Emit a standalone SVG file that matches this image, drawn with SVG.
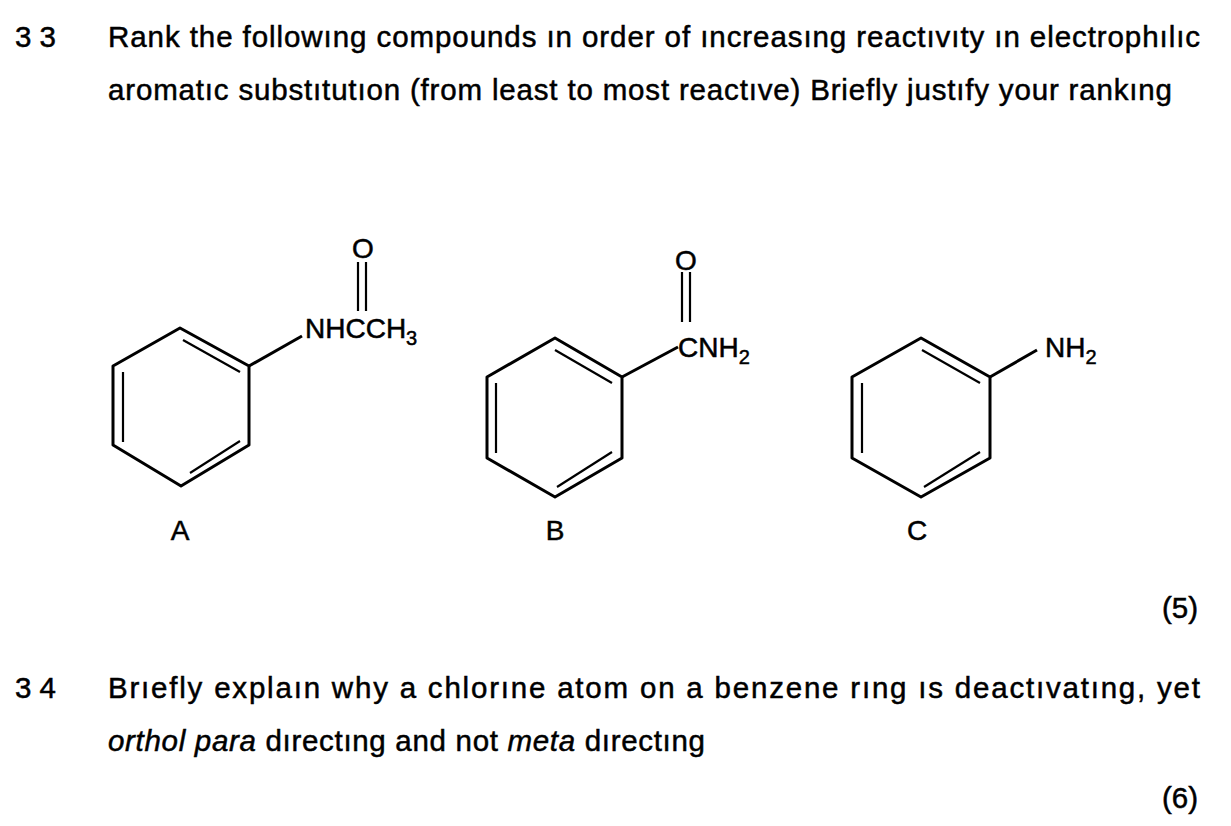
<svg xmlns="http://www.w3.org/2000/svg" width="1231" height="826" viewBox="0 0 1231 826">
<style>
text{font-family:"Liberation Sans",Arial,sans-serif;fill:#000;stroke:#000;stroke-width:0.5}
.t{font-size:29.5px}
.c{font-size:28px}
.s{font-size:20px}
.b{stroke:#000;stroke-width:3;fill:none;stroke-linejoin:round}
.i{stroke:#000;stroke-width:2.2;fill:none}
</style>
<rect width="1231" height="826" fill="#fff"/>
<text class="t" x="15" y="47">3 3</text>
<text class="t" x="108" y="47" textLength="1092" lengthAdjust="spacing">Rank the followıng compounds ın order of ıncreasıng reactıvıty ın electrophılıc</text>
<text class="t" x="108" y="100" textLength="1064" lengthAdjust="spacing">aromatıc substıtutıon (from least to most reactıve)  Briefly justıfy your rankıng</text>

<g id="compoundA">
<polygon class="b" points="180,328 249,366 249,445 181,486 113,445 113,366"/>
<line class="i" x1="183" y1="340" x2="240" y2="372"/>
<line class="i" x1="240" y1="441" x2="190" y2="473"/>
<line class="i" x1="123" y1="372" x2="123" y2="442"/>
<line class="b" x1="249" y1="366" x2="302" y2="336"/>
<line class="i" x1="358" y1="262" x2="358" y2="311"/>
<line class="i" x1="366" y1="262" x2="366" y2="311"/>
<text class="c" x="363" y="258" text-anchor="middle">O</text>
<text class="c" x="305" y="338">NHCCH<tspan class="s" dy="7">3</tspan></text>
<text class="c" x="180" y="540" text-anchor="middle">A</text>
</g>

<g id="compoundB">
<polygon class="b" points="555,338 622,377 622,458 555,497 487,458 487,377"/>
<line class="i" x1="555" y1="350" x2="612" y2="383"/>
<line class="i" x1="612" y1="452" x2="557" y2="487"/>
<line class="i" x1="496" y1="383" x2="496" y2="453"/>
<line class="b" x1="622" y1="377" x2="678" y2="347"/>
<line class="i" x1="682" y1="272" x2="682" y2="322"/>
<line class="i" x1="690" y1="272" x2="690" y2="322"/>
<text class="c" x="686" y="270" text-anchor="middle">O</text>
<text class="c" x="678" y="357">CNH<tspan class="s" dy="7">2</tspan></text>
<text class="c" x="555" y="540" text-anchor="middle">B</text>
</g>

<g id="compoundC">
<polygon class="b" points="921,338 990,377 990,458 921,497 852,458 852,377"/>
<line class="i" x1="922" y1="350" x2="980" y2="383"/>
<line class="i" x1="980" y1="452" x2="924" y2="487"/>
<line class="i" x1="862" y1="383" x2="862" y2="453"/>
<line class="b" x1="990" y1="377" x2="1037" y2="350"/>
<text class="c" x="1045" y="357">NH<tspan class="s" dy="7">2</tspan></text>
<text class="c" x="917" y="540" text-anchor="middle">C</text>
</g>

<text class="t" x="1198" y="618" text-anchor="end">(5)</text>
<text class="t" x="15" y="698">3 4</text>
<text class="t" x="108" y="698" textLength="1092" lengthAdjust="spacing">Brıefly explaın why a chlorıne atom on a benzene rıng ıs deactıvatıng, yet</text>
<text class="t" x="108" y="751" textLength="597" lengthAdjust="spacing"><tspan font-style="italic">orthol para</tspan> dırectıng and not <tspan font-style="italic">meta</tspan> dırectıng</text>
<text class="t" x="1198" y="808" text-anchor="end">(6)</text>
</svg>
